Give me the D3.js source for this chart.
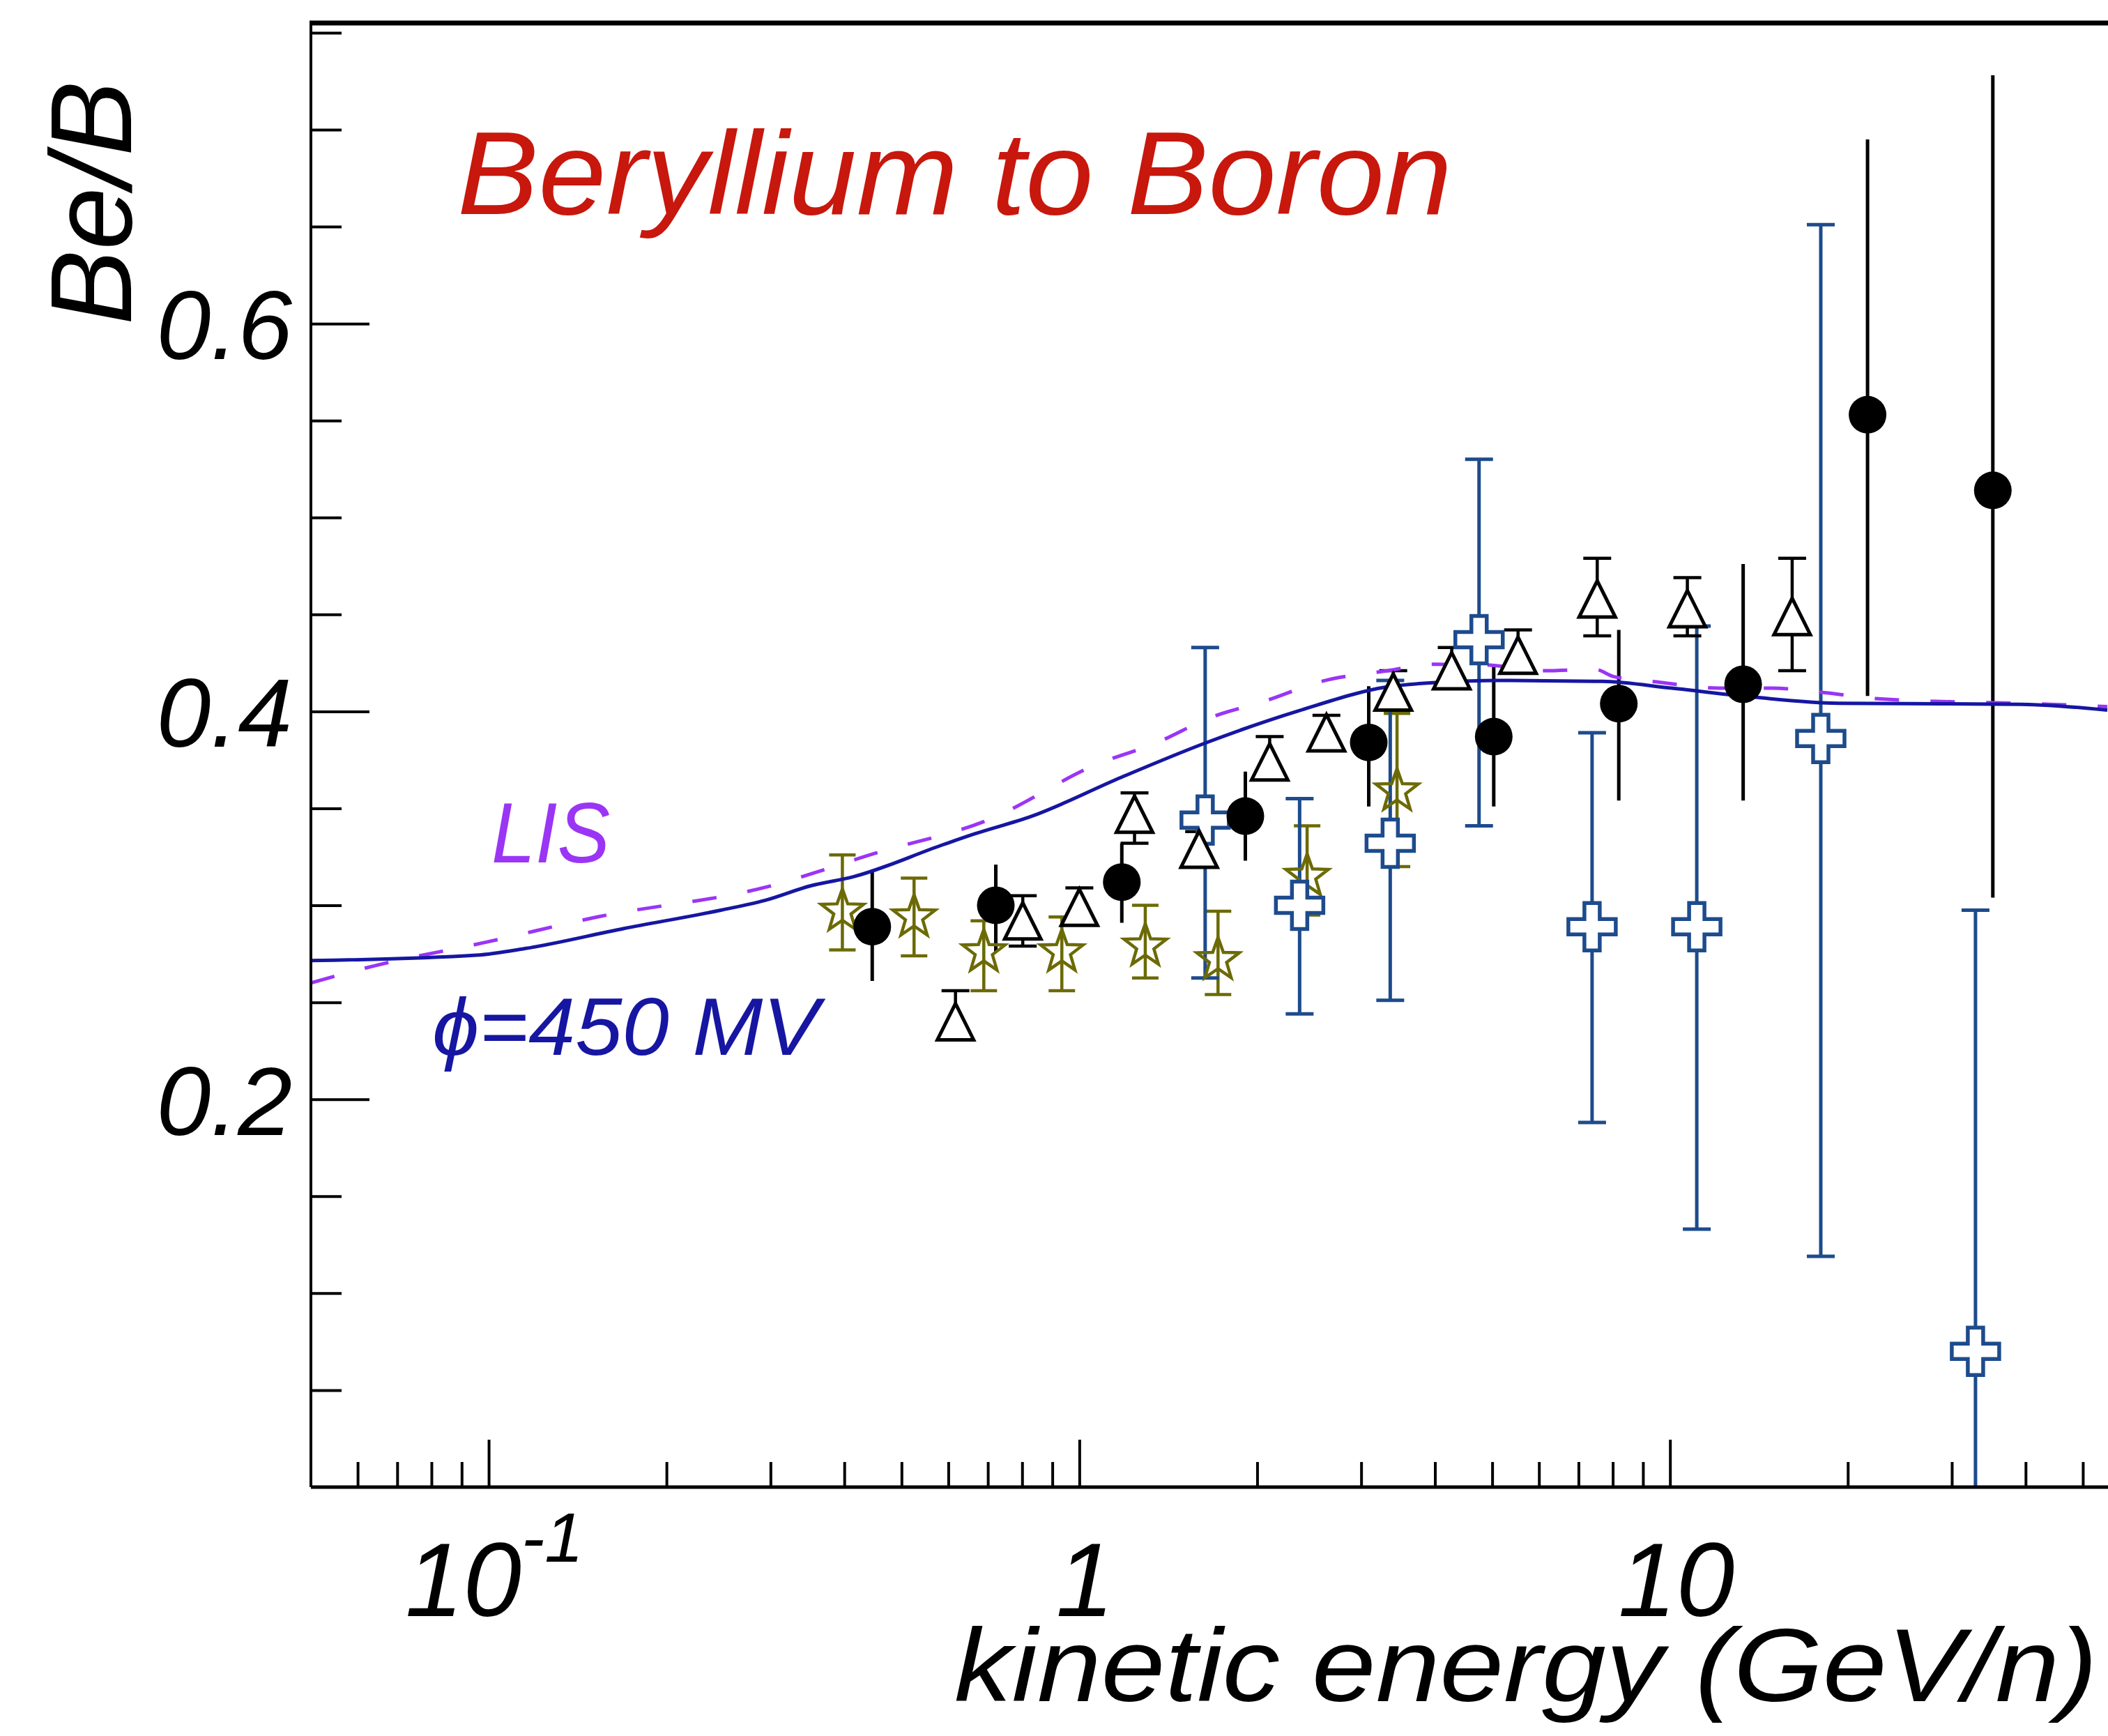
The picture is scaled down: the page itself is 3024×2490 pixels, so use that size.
<!DOCTYPE html>
<html>
<head>
<meta charset="utf-8">
<script src="https://cdn.jsdelivr.net/npm/d3@7"></script>
<style>
  html, body { margin: 0; padding: 0; background: #fff; }
  svg text { font-family: "Liberation Sans", Arial, sans-serif; font-style: italic; }
</style>
</head>
<body>
<svg id="chart" width="3024" height="2490"></svg>
<script>
// black filled circles
const circE  = [0.446, 0.722, 1.18, 1.91, 3.09, 5.03, 8.19, 13.3, 21.6, 35.2];
const circV  = [0.289, 0.300, 0.312, 0.346, 0.384, 0.387, 0.404, 0.414, 0.553, 0.514];
const circLo = [0.261, 0.276, 0.291, 0.323, 0.351, 0.351, 0.354, 0.354, 0.408, 0.304];
const circHi = [0.318, 0.321, 0.332, 0.369, 0.413, 0.424, 0.442, 0.476, 0.695, 0.728];

// open black triangles
const triE  = [0.617, 0.802, 1.0, 1.24, 1.595, 2.10, 2.62, 3.4, 4.27, 5.53, 7.53, 10.7, 16.1];
const triV  = [0.240, 0.292, 0.299, 0.347, 0.329, 0.374, 0.389, 0.410, 0.421, 0.429, 0.458, 0.453, 0.449];
const triLo = [0.234, 0.279, 0.290, 0.332, 0.320, 0.366, 0.383, 0.403, 0.415, 0.421, 0.439, 0.439, 0.421];
const triHi = [0.256, 0.305, 0.309, 0.358, 0.338, 0.387, 0.398, 0.421, 0.433, 0.442, 0.479, 0.469, 0.479];

// olive open stars
const starE  = [0.397, 0.525, 0.689, 0.934, 1.293, 1.717, 2.43, 3.45];
const starV  = [0.297, 0.294, 0.276, 0.276, 0.279, 0.272, 0.315, 0.359];
const starLo = [0.277, 0.274, 0.256, 0.256, 0.2625, 0.254, 0.295, 0.320];
const starHi = [0.326, 0.314, 0.292, 0.294, 0.300, 0.297, 0.341, 0.399];

// blue open crosses
const crossE  = [1.633, 2.36, 3.36, 4.75, 7.38, 11.1, 18.0, 32.9];
const crossV  = [0.344, 0.300, 0.332, 0.437, 0.289, 0.289, 0.386, 0.070];
const crossLo = [0.2625, 0.244, 0.251, 0.341, 0.188, 0.133, 0.119, -0.05];
const crossHi = [0.433, 0.355, 0.416, 0.530, 0.389, 0.444, 0.651, 0.2975];

// modulated model, phi = 450 MV
const modE = [0.05, 0.0954, 0.1156, 0.169, 0.248, 0.293, 0.350, 0.415, 0.588, 0.664, 0.831, 1.177, 1.634, 2.35, 3.33, 4.07, 5.11, 7.68, 10.07, 13.9, 19.3, 39.3, 55];
const modV = [0.2715, 0.2743, 0.2778, 0.288, 0.2976, 0.3025, 0.310, 0.3148, 0.3313, 0.3368, 0.346, 0.366, 0.3837, 0.4003, 0.4127, 0.415, 0.416, 0.4155, 0.412, 0.4073, 0.4042, 0.4037, 0.4007];

// local interstellar spectrum
const lisE = [0.05, 0.064, 0.099, 0.1526, 0.2948, 0.453, 0.70, 1.076, 1.348, 1.663, 2.084, 2.565, 3.33, 3.965, 4.875, 6.12, 7.47, 8.02, 9.63, 12.08, 14.86, 18.28, 22.3, 43.9, 55];
const lisV = [0.26, 0.2688, 0.281, 0.294, 0.3094, 0.327, 0.344, 0.373, 0.3837, 0.3967, 0.4058, 0.4154, 0.421, 0.4243, 0.424, 0.421, 0.4217, 0.418, 0.415, 0.412, 0.412, 0.4097, 0.4066, 0.4037, 0.4025];

const xMajor = [0.1, 1, 10];
const xMinor = [0.06, 0.07, 0.08, 0.09, 0.2, 0.3, 0.4, 0.5, 0.6, 0.7, 0.8, 0.9, 2, 3, 4, 5, 6, 7, 8, 9, 20, 30, 40, 50];
const yMajor = [0.2, 0.4, 0.6];
const yMinor = [0.05, 0.1, 0.15, 0.25, 0.3, 0.35, 0.45, 0.5, 0.55, 0.65, 0.7, 0.75];

const padL = 446, padR = 3023, padT = 33, padB = 2133;

const svg = d3.select('#chart');
svg.append('rect').attr('width', 3024).attr('height', 2490).attr('fill', '#fff');

const x = d3.scaleLog().domain([0.05, 55]).range([padL, padR]);
const y = d3.scaleLinear().domain([0, 0.755]).range([padB, padT]);

svg.append('defs').append('clipPath').attr('id', 'plotclip')
  .append('rect').attr('x', padL).attr('y', padT).attr('width', padR - padL + 5).attr('height', padB - padT);

const zip = (E, V, L, H) => E.map((e, i) => ({e: e, v: V[i], lo: L ? L[i] : null, hi: H ? H[i] : null}));
const circles = zip(circE, circV, circLo, circHi);
const triangles = zip(triE, triV, triLo, triHi);
const stars = zip(starE, starV, starLo, starHi);
const crosses = zip(crossE, crossV, crossLo, crossHi);

const plot = svg.append('g').attr('clip-path', 'url(#plotclip)');

// error bars
function errBars(data, color, width, cap) {
  const g = plot.append('g').attr('stroke', color).attr('stroke-width', width).attr('fill', 'none');
  g.selectAll('line.bar').data(data).join('line').attr('class', 'bar')
    .attr('x1', d => x(d.e)).attr('x2', d => x(d.e))
    .attr('y1', d => y(d.lo)).attr('y2', d => y(d.hi));
  if (cap > 0) {
    ['lo', 'hi'].forEach(k => {
      g.selectAll('line.' + k).data(data).join('line').attr('class', k)
        .attr('x1', d => x(d.e) - cap / 2).attr('x2', d => x(d.e) + cap / 2)
        .attr('y1', d => y(d[k])).attr('y2', d => y(d[k]));
    });
  }
}
errBars(stars, '#6b6a05', 4.5, 38);
errBars(crosses, '#1d4b8d', 5, 40);
errBars(triangles, '#000', 4.5, 40);
errBars(circles, '#000', 5, 0);

// curves
const line = d3.line().x(d => x(d.e)).y(d => y(d.v)).curve(d3.curveMonotoneX);
plot.append('path').datum(zip(lisE, lisV))
  .attr('d', line).attr('fill', 'none').attr('stroke', '#9b35f5')
  .attr('stroke-width', 5).attr('stroke-dasharray', '35,45');
plot.append('path').datum(zip(modE, modV))
  .attr('d', line).attr('fill', 'none').attr('stroke', '#1616a2').attr('stroke-width', 5);

// markers
function starPts(R, r) {
  const p = [];
  for (let i = 0; i < 10; i++) {
    const a = -Math.PI / 2 + i * Math.PI / 5;
    const rr = i % 2 === 0 ? R : r;
    p.push([rr * Math.cos(a), rr * Math.sin(a)]);
  }
  return p;
}
const starPath = 'M' + starPts(32, 13).map(p => p.join(',')).join('L') + 'Z';
plot.append('g').selectAll('path').data(stars).join('path')
  .attr('transform', d => `translate(${x(d.e)},${y(d.v)})`)
  .attr('d', starPath).attr('fill', 'none').attr('stroke', '#6b6a05').attr('stroke-width', 4.5);

const arm = 34, hw = 11;
const crossPath = `M${-hw},${-arm}H${hw}V${-hw}H${arm}V${hw}H${hw}V${arm}H${-hw}V${hw}H${-arm}V${-hw}H${-hw}Z`;
plot.append('g').selectAll('path').data(crosses).join('path')
  .attr('transform', d => `translate(${x(d.e)},${y(d.v)})`)
  .attr('d', crossPath).attr('fill', '#fff').attr('stroke', '#1d4b8d').attr('stroke-width', 5.5);

const tr = 26;
plot.append('g').selectAll('path').data(triangles).join('path')
  .attr('transform', d => `translate(${x(d.e)},${y(d.v)})`)
  .attr('d', `M0,${-tr}L${tr},${tr}L${-tr},${tr}Z`)
  .attr('fill', '#fff').attr('stroke', '#000').attr('stroke-width', 5).attr('stroke-linejoin', 'miter');

plot.append('g').selectAll('circle').data(circles).join('circle')
  .attr('cx', d => x(d.e)).attr('cy', d => y(d.v)).attr('r', 27).attr('fill', '#000');

// axes
function styleAxis(g) {
  g.select('.domain').remove();
  g.selectAll('.tick line').attr('stroke', '#000').attr('stroke-width', 4);
}
svg.append('g').attr('transform', `translate(0,${padB})`)
  .call(d3.axisBottom(x).tickValues(xMinor).tickSize(-36).tickFormat(''))
  .call(styleAxis);
svg.append('g').attr('transform', `translate(0,${padB})`)
  .call(d3.axisBottom(x).tickValues(xMajor).tickSize(-68).tickFormat(''))
  .call(styleAxis);
svg.append('g').attr('transform', `translate(${padL},0)`)
  .call(d3.axisLeft(y).tickValues(yMinor).tickSize(-44).tickFormat(''))
  .call(styleAxis);
const yAx = svg.append('g').attr('transform', `translate(${padL},0)`)
  .call(d3.axisLeft(y).tickValues(yMajor).tickSize(-84).tickPadding(27).tickFormat(d3.format('.1f')))
  .call(styleAxis);
yAx.selectAll('.tick text')
  .attr('font-family', '"Liberation Sans", Arial, sans-serif')
  .attr('font-size', 140).attr('fill', '#000').attr('dy', '0.36em');

// frame
const frame = svg.append('g').attr('stroke', '#000').attr('fill', 'none');
frame.append('line').attr('x1', padL).attr('x2', 3024).attr('y1', padB).attr('y2', padB).attr('stroke-width', 5);
frame.append('line').attr('x1', padL).attr('x2', padL).attr('y1', padT).attr('y2', padB).attr('stroke-width', 4);
frame.append('line').attr('x1', padL - 2).attr('x2', 3024).attr('y1', padT).attr('y2', padT).attr('stroke-width', 7);

// x tick labels
const xl = svg.append('g').attr('font-size', 150).attr('fill', '#000').attr('text-anchor', 'middle');
const l0 = xl.append('text').attr('x', x(0.1) + 8).attr('y', 2318);
l0.append('tspan').text('10');
l0.append('tspan').attr('font-size', 100).attr('dy', -78).text('-1');
xl.append('text').attr('x', x(1) + 8).attr('y', 2318).text('1');
xl.append('text').attr('x', x(10) + 9).attr('y', 2318).text('10');

// titles and labels
svg.append('text').attr('x', 1369).attr('y', 2440).attr('font-size', 148)
  .attr('textLength', 1640).attr('lengthAdjust', 'spacingAndGlyphs')
  .text('kinetic energy (GeV/n)');
svg.append('text').attr('transform', 'translate(188,466) rotate(-90)')
  .attr('font-size', 165).attr('textLength', 350).attr('lengthAdjust', 'spacingAndGlyphs')
  .text('Be/B');
svg.append('text').attr('x', 656).attr('y', 307).attr('font-size', 168).attr('fill', '#c8170c')
  .attr('textLength', 1427).attr('lengthAdjust', 'spacingAndGlyphs')
  .text('Beryllium to Boron');
svg.append('text').attr('x', 705).attr('y', 1237).attr('font-size', 122).attr('fill', '#9b35f5')
  .attr('textLength', 170).attr('lengthAdjust', 'spacingAndGlyphs')
  .text('LIS');
svg.append('text').attr('x', 620).attr('y', 1513).attr('font-size', 116).attr('fill', '#1616a2')
  .attr('textLength', 555).attr('lengthAdjust', 'spacingAndGlyphs')
  .text('ϕ=450 MV');
</script>
</body>
</html>
